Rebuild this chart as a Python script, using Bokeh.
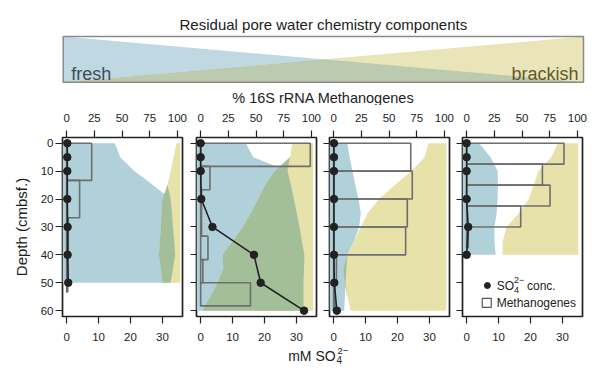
from bokeh.plotting import figure
from bokeh.models import Range1d, LinearAxis, FixedTicker, CustomJSTickFormatter
from bokeh.layouts import column, row
from bokeh.core.properties import value
from bokeh.embed import file_html
from bokeh.resources import INLINE
import numpy as np

FONT = "Liberation Sans"

# ---------------- data ----------------
DEPTH_TICKS = [0, 10, 20, 30, 40, 50, 60]
SO4_TICKS = [0, 10, 20, 30]
PCT_TICKS = [0, 25, 50, 75, 100]

# fresh (blue) / brackish (yellow) residual components, mM-equivalent positions
P1_FILL_DEPTH = [0, 5, 10, 15, 20, 25, 30, 35, 40, 45, 50]
P1_BLUE_RIGHT = [15.1, 16.8, 21.2, 27.0, 32.6, 33.0, 33.3, 33.7, 34.0, 33.3, 32.6]
P1_YELLOW_LEFT = [34.4, 33.5, 32.6, 31.6, 30.0, 29.7, 29.5, 29.2, 28.9, 29.5, 30.0]
P1_YELLOW_RIGHT = 35.6

P2_FILL_DEPTH = [0, 5, 10, 15, 20, 25, 30, 35, 40, 45, 50, 55, 60]
P2_BLUE_RIGHT = [14.1, 16.5, 27.2, 28.3, 29.2, 30.1, 31.0, 31.7, 32.5, 32.4, 32.2, 32.2, 32.2]
P2_YELLOW_LEFT = [28.7, 28.0, 23.2, 20.2, 18.0, 15.7, 13.2, 10.1, 6.9, 7.1, 5.3, 3.0, 0.5]
P2_YELLOW_RIGHT = 35.3

P3_FILL_DEPTH = [0, 5, 10, 15, 20, 25, 30, 35, 40, 45, 50, 55, 60]
P3_BLUE_RIGHT = [4.3, 5.0, 5.9, 6.8, 7.8, 8.5, 8.0, 6.4, 4.3, 4.0, 3.7, 3.5, 3.3]
P3_YELLOW_LEFT = [29.7, 28.5, 24.4, 19.2, 14.2, 10.7, 8.5, 6.4, 4.3, 3.0, 3.4, 4.3, 5.3]
P3_YELLOW_RIGHT = 35.3

P4_FILL_DEPTH = [0, 5, 10, 15, 20, 25, 30, 35, 40]
P4_BLUE_RIGHT = [3.9, 7.5, 9.7, 9.8, 9.7, 9.4, 8.7, 8.7, 9.1]
P4_YELLOW_LEFT = [28.5, 26.5, 22.5, 21.0, 19.5, 16.4, 12.5, 11.3, 11.2]
P4_YELLOW_RIGHT = 35.0

# % 16S rRNA methanogenes (depth intervals)
P1_BAR_TOP = [0, 13.3, 26.7, 40]
P1_BAR_BOTTOM = [13.3, 26.7, 40, 53.3]
P1_BAR_PCT = [22.6, 11.7, 1.5, 1.0]

P2_BAR_TOP = [0, 8.3, 16.7, 25, 33.3, 41.7, 50]
P2_BAR_BOTTOM = [8.3, 16.7, 25, 33.3, 41.7, 50, 58.3]
P2_BAR_PCT = [99, 8.4, 0.8, 0.8, 6.6, 2.0, 45]

P3_BAR_TOP = [0, 10, 20, 30, 40, 50]
P3_BAR_BOTTOM = [10, 20, 30, 40, 50, 60]
P3_BAR_PCT = [69.6, 71.0, 66.5, 65.0, 2.5, 1.0]

P4_BAR_TOP = [0, 7.5, 15, 22.5, 30]
P4_BAR_BOTTOM = [7.5, 15, 22.5, 30, 37.5]
P4_BAR_PCT = [87.9, 68.4, 75.3, 48.8, 1.5]

# sulfate concentration (mM)
P1_SO4_DEPTH = [0, 5, 10, 20, 30, 40, 50]
P1_SO4 = [0.2, 0.2, 0.2, 0.2, 0.3, 0.3, 0.5]
P2_SO4_DEPTH = [0, 5, 10, 20, 30, 40, 50, 60]
P2_SO4 = [0, 0, 0, 0.2, 3.7, 16.7, 18.8, 32.4]
P3_SO4_DEPTH = [0, 5, 10, 20, 30, 40, 50, 60]
P3_SO4 = [0.1, 0.1, 0.1, 0.1, 0.1, 0.1, 0.2, 1.0]
P4_SO4_DEPTH = [0, 5, 10, 20, 30, 40]
P4_SO4 = [0, 0, 0, 0, 0.5, 0]

# ---------------- style ----------------
BLUE = "#b0d0da"
YELLOW = "#e6e2aa"
GREEN = "#a3bf9a"
INK = "#222222"
BAR_LINE = "#6e6e6e"

X_START, X_END = -1.3, 36.3          # mM
PCT_PER_MM = 100 / 34.7              # 100 % aligned with 34.7 mM
Y_TOP, Y_BOTTOM = -2.05, 62.1        # depth (flipped)


def style_axis(ax, ticks):
    ax.ticker = FixedTicker(ticks=ticks)
    ax.axis_line_color = None
    ax.major_tick_out = 7
    ax.major_tick_in = 0
    ax.minor_tick_line_color = None
    ax.major_tick_line_color = INK
    ax.major_tick_line_width = 1.2
    ax.major_label_text_font = FONT
    ax.major_label_text_font_size = "11.5px"
    ax.major_label_text_color = INK


def make_panel(depth, blue_r, yel_l, yel_r, bar_top, bar_bot, bar_pct,
               so4_depth, so4, b_left, b_right, first=False):
    p = figure(frame_width=120, frame_height=179,
               x_range=Range1d(X_START, X_END), y_range=Range1d(Y_BOTTOM, Y_TOP),
               output_backend="svg", toolbar_location=None,
               x_axis_location=None, y_axis_location=None,
               min_border_left=b_left, min_border_right=b_right,
               min_border_top=32, min_border_bottom=30)
    p.extra_x_ranges = {"pct": Range1d(X_START * PCT_PER_MM, X_END * PCT_PER_MM)}
    p.xgrid.visible = False
    p.ygrid.visible = False
    p.outline_line_color = INK
    p.outline_line_width = 1.7
    p.background_fill_color = "white"
    p.border_fill_color = "white"

    d = np.array(depth, float)
    br = np.array(blue_r, float)
    yl = np.array(yel_l, float)
    yr = np.full_like(d, yel_r)
    left = np.full_like(d, X_START)
    ov_hi = np.maximum(np.minimum(br, yr), yl)
    p.harea(x1=left, x2=br, y=d, fill_color=BLUE, fill_alpha=1)
    p.harea(x1=yl, x2=yr, y=d, fill_color=YELLOW, fill_alpha=1)
    p.harea(x1=yl, x2=ov_hi, y=d, fill_color=GREEN, fill_alpha=1)

    p.quad(left=[0] * len(bar_pct), right=bar_pct, top=bar_top, bottom=bar_bot,
           x_range_name="pct", fill_color=None, line_color=BAR_LINE, line_width=1.6)

    p.line(so4, so4_depth, line_color=INK, line_width=1.6)
    p.scatter(so4, so4_depth, size=7.5, fill_color=INK, line_color=INK)

    top = LinearAxis(x_range_name="pct")
    style_axis(top, PCT_TICKS)
    top.major_label_standoff = 9
    p.add_layout(top, "above")

    bot = LinearAxis()
    style_axis(bot, SO4_TICKS)
    bot.major_label_standoff = 9
    p.add_layout(bot, "below")

    lft = LinearAxis()
    style_axis(lft, DEPTH_TICKS)
    if first:
        lft.major_label_standoff = 2
        lft.axis_label = "Depth (cmbsf.)"
        lft.axis_label_text_font = FONT
        lft.axis_label_text_font_size = "15px"
        lft.axis_label_text_font_style = "normal"
        lft.axis_label_text_color = INK
        lft.axis_label_standoff = 8
    else:
        lft.major_tick_out = 6
        lft.major_label_standoff = 0
        lft.formatter = CustomJSTickFormatter(code="return ''")
    p.add_layout(lft, "left")
    return p


p1 = make_panel(P1_FILL_DEPTH, P1_BLUE_RIGHT, P1_YELLOW_LEFT, P1_YELLOW_RIGHT,
                P1_BAR_TOP, P1_BAR_BOTTOM, P1_BAR_PCT, P1_SO4_DEPTH, P1_SO4, 62, 7, first=True)
p2 = make_panel(P2_FILL_DEPTH, P2_BLUE_RIGHT, P2_YELLOW_LEFT, P2_YELLOW_RIGHT,
                P2_BAR_TOP, P2_BAR_BOTTOM, P2_BAR_PCT, P2_SO4_DEPTH, P2_SO4, 7, 6)
p3 = make_panel(P3_FILL_DEPTH, P3_BLUE_RIGHT, P3_YELLOW_LEFT, P3_YELLOW_RIGHT,
                P3_BAR_TOP, P3_BAR_BOTTOM, P3_BAR_PCT, P3_SO4_DEPTH, P3_SO4, 7, 6)
p4 = make_panel(P4_FILL_DEPTH, P4_BLUE_RIGHT, P4_YELLOW_LEFT, P4_YELLOW_RIGHT,
                P4_BAR_TOP, P4_BAR_BOTTOM, P4_BAR_PCT, P4_SO4_DEPTH, P4_SO4, 7, 10)

# legend inside panel 4 (data coordinates of panel 4)
p4.scatter([6.5], [51], size=6, fill_color=INK, line_color=INK)
p4.scatter([6.3], [57.2], marker="square", size=9, fill_color=None, line_color="#555555", line_width=1.2)
p4.text(x=[9.4], y=[51], text=["SO"], text_font=value(FONT), text_font_size="12px",
        text_baseline="middle", text_color=INK)
p4.text(x=[14.8], y=[52.6], text=["4"], text_font=value(FONT), text_font_size="9px",
        text_baseline="middle", text_color=INK)
p4.text(x=[14.8], y=[48.9], text=["2\u2212"], text_font=value(FONT), text_font_size="9px",
        text_baseline="middle", text_color=INK)
p4.text(x=[18.9], y=[51], text=["conc."], text_font=value(FONT), text_font_size="12px",
        text_baseline="middle", text_color=INK)
p4.text(x=[9.4], y=[57.2], text=["Methanogenes"], text_font=value(FONT), text_font_size="12px",
        text_baseline="middle", text_color=INK)

# ---------------- banner (schematic) ----------------
BOX_L, BOX_R, BOX_T, BOX_B = 62.7, 583, 36, 81.7
banner = figure(width=592, height=105, x_range=Range1d(0, 592), y_range=Range1d(105, 0),
                output_backend="svg", toolbar_location=None,
                x_axis_location=None, y_axis_location=None, min_border=0)
banner.xgrid.visible = False
banner.ygrid.visible = False
banner.outline_line_color = None
mid_x = (BOX_L + BOX_R) / 2
mid_y = (BOX_T + BOX_B) / 2
banner.patch([BOX_L, BOX_L, BOX_R], [BOX_T, BOX_B, BOX_B], fill_color="#c0d8e1", line_color=None)
banner.patch([BOX_R, BOX_R, BOX_L], [BOX_T, BOX_B, BOX_B], fill_color="#e9e5b9", line_color=None)
banner.patch([BOX_L, BOX_R, mid_x], [BOX_B, BOX_B, mid_y], fill_color="#bccbb0", line_color=None)
banner.quad(left=[BOX_L], right=[BOX_R], top=[BOX_T], bottom=[BOX_B],
            fill_color=None, line_color="#8a8a8a", line_width=1.5)
banner.text(x=[mid_x], y=[24], text=["Residual pore water chemistry components"],
            text_font=value(FONT), text_font_size="15px", text_align="center",
            text_baseline="middle", text_color=INK)
banner.text(x=[BOX_L + 8], y=[73.3], text=["fresh"], text_font=value(FONT),
            text_font_size="18px", text_baseline="alphabetic", text_color="#3d4e57")
banner.text(x=[BOX_R - 5], y=[73.3], text=["brackish"], text_font=value(FONT),
            text_font_size="18px", text_align="right", text_baseline="alphabetic",
            text_color="#5e5a2c")
banner.text(x=[mid_x], y=[97], text=["% 16S rRNA Methanogenes"], text_font=value(FONT),
            text_font_size="14.5px", text_align="center", text_baseline="middle", text_color=INK)

# ---------------- bottom label ----------------
bottom = figure(width=592, height=23, x_range=Range1d(0, 592), y_range=Range1d(369, 346),
                output_backend="svg", toolbar_location=None,
                x_axis_location=None, y_axis_location=None, min_border=0)
bottom.xgrid.visible = False
bottom.ygrid.visible = False
bottom.outline_line_color = None
bottom.text(x=[287.7], y=[355], text=["mM SO"], text_font=value(FONT), text_font_size="14px",
            text_baseline="middle", text_color=INK)
bottom.text(x=[336], y=[359.5], text=["4"], text_font=value(FONT), text_font_size="10px",
            text_baseline="middle", text_color=INK)
bottom.text(x=[337], y=[350.5], text=["2\u2212"], text_font=value(FONT), text_font_size="9.5px",
            text_baseline="middle", text_color=INK)

layout = column(banner, row(p1, p2, p3, p4), bottom)
open("out.html", "w").write(file_html(layout, INLINE))
